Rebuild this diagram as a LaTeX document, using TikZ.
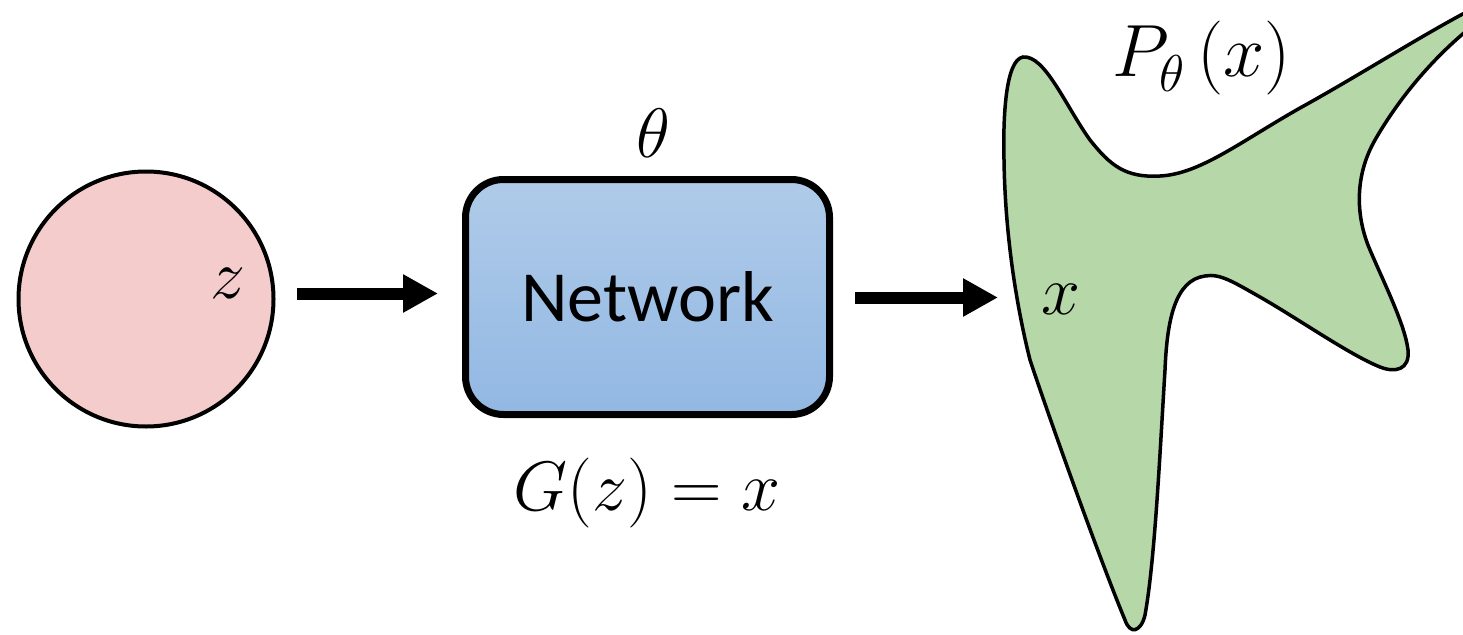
\RequirePackage{fix-cm}
\documentclass[tikz,border=0pt]{standalone}
\usepackage{fontspec}
\newfontfamily\labelsans{Carlito}
\usetikzlibrary{arrows.meta}

\definecolor{latentpink}{HTML}{F4CCCC}
\definecolor{datagreen}{HTML}{B6D7A8}
\definecolor{nettop}{HTML}{B0CBE9}
\definecolor{netbottom}{HTML}{92B8E3}

\tikzset{
  bigarrow/.style={line width=12pt, -{Triangle[length=35pt,width=36pt]}},
  mathlabel/.style={inner sep=0pt, font=\fontsize{70}{80}\selectfont},
  latent/.style={circle, draw=black, line width=4pt, fill=latentpink,
    minimum size=255pt, inner sep=0pt},
  netbox/.style={draw=black, line width=7pt, rounded corners=38pt,
    top color=nettop, bottom color=netbottom,
    minimum width=364pt, minimum height=235pt, inner sep=0pt,
    font=\labelsans\fontsize{72}{80}\selectfont},
  manifold/.style={draw=black, line width=3.5pt, fill=datagreen}
}

\begin{document}
\begin{tikzpicture}[x=1pt, y=-1pt]
  \useasboundingbox (0,0) rectangle (1463,634);

  % latent space
  \node[latent] (circ) at (146,299) {};
  \node[mathlabel] (zlab) at (228,283) {$z$};

  % generator network
  \node[netbox] (net) at (647.5,297) {Network};
  \node[mathlabel] (theta) at (653,133) {$\theta$};
  \node[mathlabel] (gen) at (647,493) {$G(z) = x$};

  % data distribution
  \begin{scope}
    \clip (0,0) rectangle (1463,634);
    \draw[manifold] (1023,57)
      .. controls (1045,55) and (1065,105) .. (1090,140)
      .. controls (1110,165) and (1125,178) .. (1160,176)
      .. controls (1200,174) and (1240,142) .. (1300,108)
      .. controls (1360,75) and (1430,30) .. (1480,5)
      -- (1480,20)
      .. controls (1430,58) and (1395,105) .. (1375,140)
      .. controls (1355,175) and (1355,215) .. (1370,250)
      .. controls (1385,285) and (1405,325) .. (1408,350)
      .. controls (1410,370) and (1395,373) .. (1380,367)
      .. controls (1350,355) and (1300,320) .. (1260,297)
      .. controls (1235,283) and (1220,273) .. (1205,276)
      .. controls (1175,280) and (1167,320) .. (1165,370)
      .. controls (1160,450) and (1155,560) .. (1145,615)
      .. controls (1141,632) and (1130,635) .. (1125,620)
      .. controls (1100,560) and (1050,420) .. (1030,360)
      .. controls (1015,300) and (1005,230) .. (1004,160)
      .. controls (1003,120) and (1005,60) .. (1023,57)
      -- cycle;
  \end{scope}
  \node[mathlabel] (xlab) at (1061,299) {$x$};
  \node[mathlabel, font=\fontsize{74}{84}\selectfont] (plab) at (1202,58)
    {$P_{\raisebox{-4pt}{$\scriptstyle\theta$}}\,(x)$};

  % connectors
  \coordinate (xin) at (998,297.5);
  \draw[bigarrow] ([xshift=21.75pt,yshift=5.5pt]circ.east) -- ([xshift=-24pt,yshift=3.5pt]net.west);
  \draw[bigarrow] ([xshift=22pt,yshift=-0.5pt]net.east) -- (xin);
\end{tikzpicture}
\end{document}
